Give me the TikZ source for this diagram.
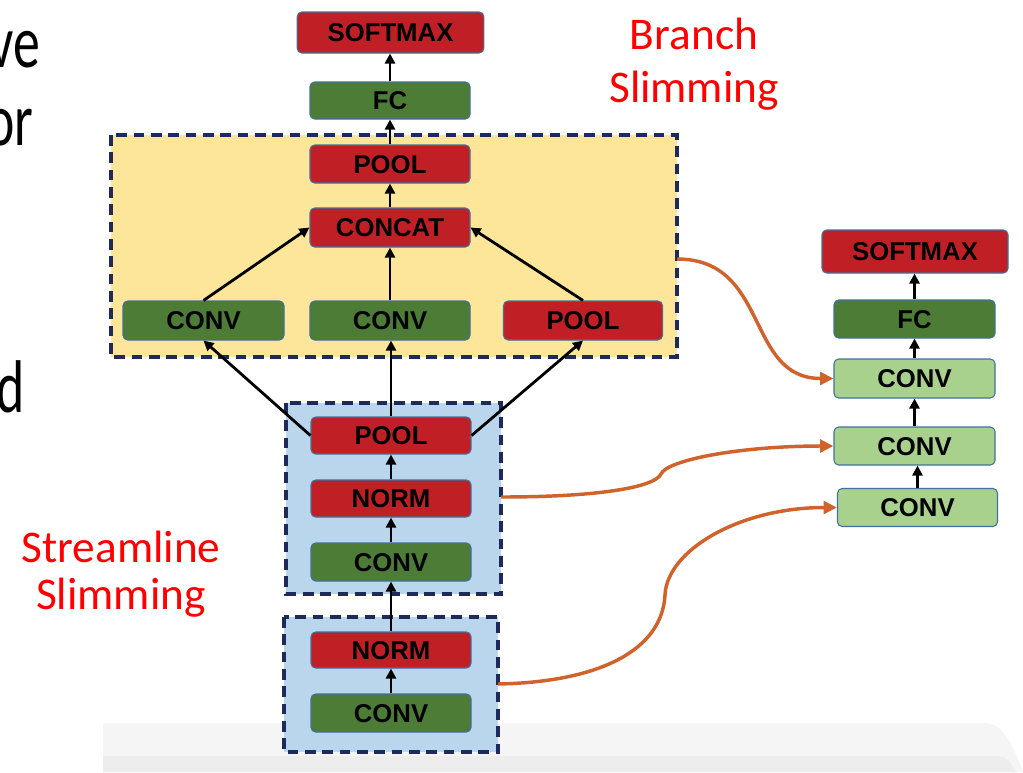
\documentclass[tikz,border=0pt]{standalone}
\usepackage{fontspec}
\setmainfont{Liberation Sans}
\newfontfamily\lblfont{Carlito}
\newfontfamily\slidefont[FakeStretch=0.72]{Carlito}
\usetikzlibrary{arrows.meta}
\definecolor{cred}{HTML}{C01F25}
\definecolor{cgreen}{HTML}{4C7C36}
\definecolor{clgreen}{HTML}{A9D18E}
\definecolor{cborder}{HTML}{41719C}
\definecolor{cyellow}{HTML}{FDE699}
\definecolor{cblue}{HTML}{BAD6EC}
\definecolor{cnavy}{HTML}{1F2A5C}
\definecolor{corange}{HTML}{D0632B}
\definecolor{clabel}{HTML}{FF0000}
\begin{document}
\begin{tikzpicture}[x=0.75pt,y=-0.75pt,
  blk/.style={rounded corners=3.5pt, draw=cborder, line width=0.8pt, inner sep=0pt,
    minimum width=120pt, minimum height=28.5pt, text height=13.8pt, text depth=0pt,
    font=\fontsize{19.3}{19.3}\selectfont\bfseries, text=black},
  rblk/.style={blk, fill=cred},
  gblk/.style={blk, fill=cgreen},
  lgblk/.style={blk, fill=clgreen},
  arr/.style={-{Triangle[length=7.5pt,width=7.5pt]}, line width=2.1pt, black},
  oarr/.style={-{Triangle[length=10pt,width=9.5pt]}, line width=2.6pt, corange},
  grp/.style={draw=cnavy, line width=2.3pt, dash pattern=on 8pt off 5pt},
  lbl/.style={font=\lblfont\fontsize{34}{34}\selectfont, text=clabel, anchor=base, inner sep=0pt},
  slide/.style={font=\slidefont\fontsize{56}{56}\selectfont, text=black, anchor=base east, inner sep=0pt}
]
\useasboundingbox (0,0) rectangle (1023,772);
% slide shadow band
\fill[black!4] (103,723) -- (985,723) .. controls (1002,723) and (1012,742) .. (1023,772) -- (103,772) -- cycle;
\fill[black!7] (103,756) -- (998,756) .. controls (1008,758) .. (1016,772) -- (103,772) -- cycle;
% cropped slide text
\begin{scope}
\clip (0,0) rectangle (1023,772);
\node[slide] (t1) at (40,67) {ve};
\node[slide] (t2) at (34,145) {or};
\node[slide] (t3) at (25,412) {d};
\end{scope}
% group boxes
\draw[grp, fill=cyellow] (111,135) rectangle (677,357);
\draw[grp, fill=cblue] (286,403) rectangle (501,594);
\draw[grp, fill=cblue] (284,617) rectangle (498,752);
\coordinate (o1) at (677,259);
\coordinate (o2) at (501,497);
\coordinate (o3) at (498,684);
% main column
\node[rblk, minimum width=140pt, minimum height=30.75pt] (topSM) at (390.5,32.5) {SOFTMAX};
\node[gblk, minimum height=27.75pt] (topFC) at (390,100.5) {FC};
\node[rblk] (ypool) at (390,164) {POOL};
\node[rblk, minimum height=29.25pt] (concat) at (390,227.5) {CONCAT};
\node[gblk, minimum width=120.75pt, minimum height=29.25pt] (conva) at (203.5,320.5) {CONV};
\node[gblk, minimum height=29.25pt] (convb) at (390,320.5) {CONV};
\node[rblk, minimum width=119.25pt, minimum height=29.25pt] (poolc) at (583,320.5) {POOL};
\node[rblk, minimum height=27.75pt] (bpool) at (391,435.5) {POOL};
\node[rblk, minimum height=27.75pt] (bnorm) at (391,498.5) {NORM};
\node[gblk] (bconv) at (391,562) {CONV};
\node[rblk, minimum height=27pt] (cnorm) at (391,650) {NORM};
\node[gblk] (cconv) at (391,713) {CONV};
% right column
\node[rblk, minimum width=139.5pt, minimum height=32.25pt] (rsm) at (915,251.5) {SOFTMAX};
\node[gblk, minimum width=120.75pt] (rfc) at (914.5,319) {FC};
\node[lgblk, minimum width=120.75pt, minimum height=29.25pt] (rc1) at (914.5,378.5) {CONV};
\node[lgblk, minimum width=120.75pt] (rc2) at (914.5,446) {CONV};
\node[lgblk] (rc3) at (917.5,507.5) {CONV};
% labels
\node[lbl] (br1) at (694,49) {Branch};
\node[lbl] (br2) at (694,102) {Slimming};
\node[lbl] (sl1) at (121,562) {Streamline};
\node[lbl] (sl2) at (121,609) {Slimming};
% black arrows
\draw[arr] (topFC.north) -- (topSM.south -| topFC.north);
\draw[arr] (ypool.north) -- (topFC.south);
\draw[arr] (concat.north) -- (ypool.south);
\draw[arr] (conva.north) -- (concat.west);
\draw[arr] (convb.north) -- (concat.south);
\draw[arr] (poolc.north) -- (concat.east);
\draw[arr] (bpool.west) -- (conva.south);
\draw[arr] (bpool.north) -- (convb.south -| bpool.north);
\draw[arr] (bpool.east) -- (poolc.south);
\draw[arr] (bnorm.north) -- (bpool.south);
\draw[arr] (bconv.north) -- (bnorm.south);
\draw[arr] (cnorm.north) -- (bconv.south);
\draw[arr] (cconv.north) -- (cnorm.south);
\draw[arr] (rc3.north) -- (rc3.north |- rc2.south);
\draw[arr] (rc2.north) -- (rc1.south);
\draw[arr] (rc1.north) -- (rfc.south);
\draw[arr] (rfc.north) -- (rfc.north |- rsm.south);
% orange connectors
\draw[oarr] (o1) .. controls (770,259) and (745,378.5) .. (rc1.west);
\draw[oarr] (o2) .. controls (600,497) and (655,487) .. (661,474) .. controls (667,460) and (740,446) .. (rc2.west);
\draw[oarr] (o3) .. controls (600,682) and (662,650) .. (665,595) .. controls (667,550) and (740,507.5) .. (rc3.west);
\end{tikzpicture}
\end{document}
